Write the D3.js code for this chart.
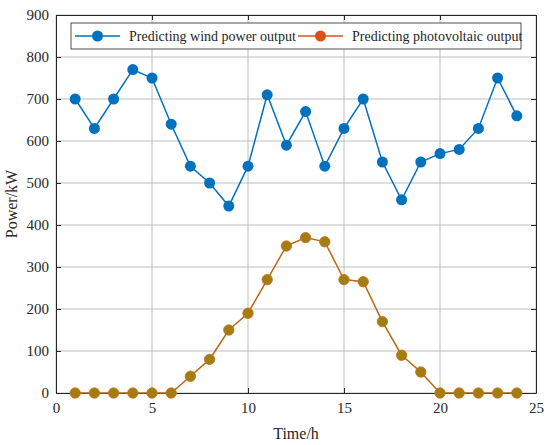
<!DOCTYPE html>
<html>
<head>
<meta charset="utf-8">
<script src="https://cdn.jsdelivr.net/npm/d3@7"></script>
<style>
  body { margin: 0; background: #fff; }
</style>
</head>
<body>
<div id="chart"></div>
<script>
// Data
let hours = d3.range(1, 25);
let windOutput = [700, 630, 700, 770, 750, 640, 540, 500, 445, 540, 710, 590,
                  670, 540, 630, 700, 550, 460, 550, 570, 580, 630, 750, 660];
let pvOutput = [0, 0, 0, 0, 0, 0, 40, 80, 150, 190, 270, 350,
                370, 360, 270, 265, 170, 90, 50, 0, 0, 0, 0, 0];
let xTicks = [0, 5, 10, 15, 20, 25];
let yTicks = [0, 100, 200, 300, 400, 500, 600, 700, 800, 900];
let seriesNames = ["Predicting wind power output", "Predicting photovoltaic output"];

let serif = "Liberation Serif";

let margin = { top: 15, right: 14, bottom: 52, left: 56 };
let width = 550 - margin.left - margin.right;
let height = 445 - margin.top - margin.bottom;

let svg = d3.select("#chart")
    .append("svg")
    .attr("width", 550)
    .attr("height", 445)
    .attr("font-family", serif)
    .append("g")
    .attr("transform", `translate(${margin.left}, ${margin.top})`);

let x = d3.scaleLinear().domain([0, 25]).range([0, width]);
let y = d3.scaleLinear().domain([0, 900]).range([height, 0]);

// grid
svg.append("g")
    .selectAll("line")
    .data(xTicks)
    .join("line")
    .attr("x1", (d) => x(d)).attr("x2", (d) => x(d))
    .attr("y1", 0).attr("y2", height)
    .attr("stroke", "#adadad").attr("stroke-width", 0.8);

svg.append("g")
    .selectAll("line")
    .data(yTicks)
    .join("line")
    .attr("x1", 0).attr("x2", width)
    .attr("y1", (d) => y(d)).attr("y2", (d) => y(d))
    .attr("stroke", "#adadad").attr("stroke-width", 0.8);

// axes
let xAxis = d3.axisBottom(x).tickValues(xTicks).tickSizeInner(-5).tickSizeOuter(0).tickPadding(9);
let yAxis = d3.axisLeft(y).tickValues(yTicks).tickSizeInner(-5).tickSizeOuter(0).tickPadding(7);

let gx = svg.append("g").attr("transform", `translate(0, ${height})`).call(xAxis);
let gy = svg.append("g").call(yAxis);
let gxTop = svg.append("g").call(d3.axisTop(x).tickValues(xTicks).tickSizeInner(-5).tickSizeOuter(0).tickFormat(""));
let gyRight = svg.append("g").attr("transform", `translate(${width}, 0)`)
    .call(d3.axisRight(y).tickValues(yTicks).tickSizeInner(-5).tickSizeOuter(0).tickFormat(""));

[gx, gy, gxTop, gyRight].forEach((g) => {
    g.attr("font-family", serif).attr("font-size", 15);
    g.select(".domain").attr("stroke", "#262626").attr("stroke-width", 1);
    g.selectAll(".tick line").attr("stroke", "#262626");
    g.selectAll(".tick text").attr("fill", "#262626");
});

// axis labels
svg.append("text")
    .attr("x", width / 2)
    .attr("y", height + 46)
    .attr("text-anchor", "middle")
    .attr("fill", "#262626")
    .attr("font-size", 16)
    .text("Time/h");

svg.append("text")
    .attr("transform", "rotate(-90)")
    .attr("x", -height / 2)
    .attr("y", -39)
    .attr("text-anchor", "middle")
    .attr("fill", "#262626")
    .attr("font-size", 16)
    .text("Power/kW");

let line = d3.line()
    .x((d, i) => x(hours[i]))
    .y((d) => y(d));

// wind series
svg.append("path")
    .datum(windOutput)
    .attr("fill", "none")
    .attr("stroke", "#0072bd")
    .attr("stroke-width", 1.5)
    .attr("d", line);

svg.append("g")
    .selectAll("circle")
    .data(windOutput)
    .join("circle")
    .attr("cx", (d, i) => x(hours[i]))
    .attr("cy", (d) => y(d))
    .attr("r", 5.5)
    .attr("fill", "#0072bd");

// photovoltaic series
svg.append("path")
    .datum(pvOutput)
    .attr("fill", "none")
    .attr("stroke", "#b46a14")
    .attr("stroke-width", 1.5)
    .attr("d", line);

svg.append("g")
    .selectAll("circle")
    .data(pvOutput)
    .join("circle")
    .attr("cx", (d, i) => x(hours[i]))
    .attr("cy", (d) => y(d))
    .attr("r", 5.2)
    .attr("fill", "#a07f10")
    .attr("stroke", "#d06a1a")
    .attr("stroke-width", 0.8);

// legend
let legend = svg.append("g").attr("transform", "translate(15, 8)");
legend.append("rect")
    .attr("width", 450)
    .attr("height", 26)
    .attr("fill", "#fff")
    .attr("stroke", "#262626")
    .attr("stroke-width", 0.8);

let legendColors = ["#0072bd", "#d95319"];
let legendX = [4, 227];
seriesNames.forEach(function (name, i) {
    let g = legend.append("g").attr("transform", `translate(${legendX[i]}, 13)`);
    g.append("line")
        .attr("x1", 0).attr("x2", 45)
        .attr("stroke", legendColors[i]).attr("stroke-width", 1.5);
    g.append("circle")
        .attr("cx", 22.5).attr("r", 5.5)
        .attr("fill", legendColors[i]);
    g.append("text")
        .attr("x", 54)
        .attr("y", 5)
        .attr("fill", "#262626")
        .attr("font-size", 14)
        .text(name);
});
</script>
</body>
</html>
